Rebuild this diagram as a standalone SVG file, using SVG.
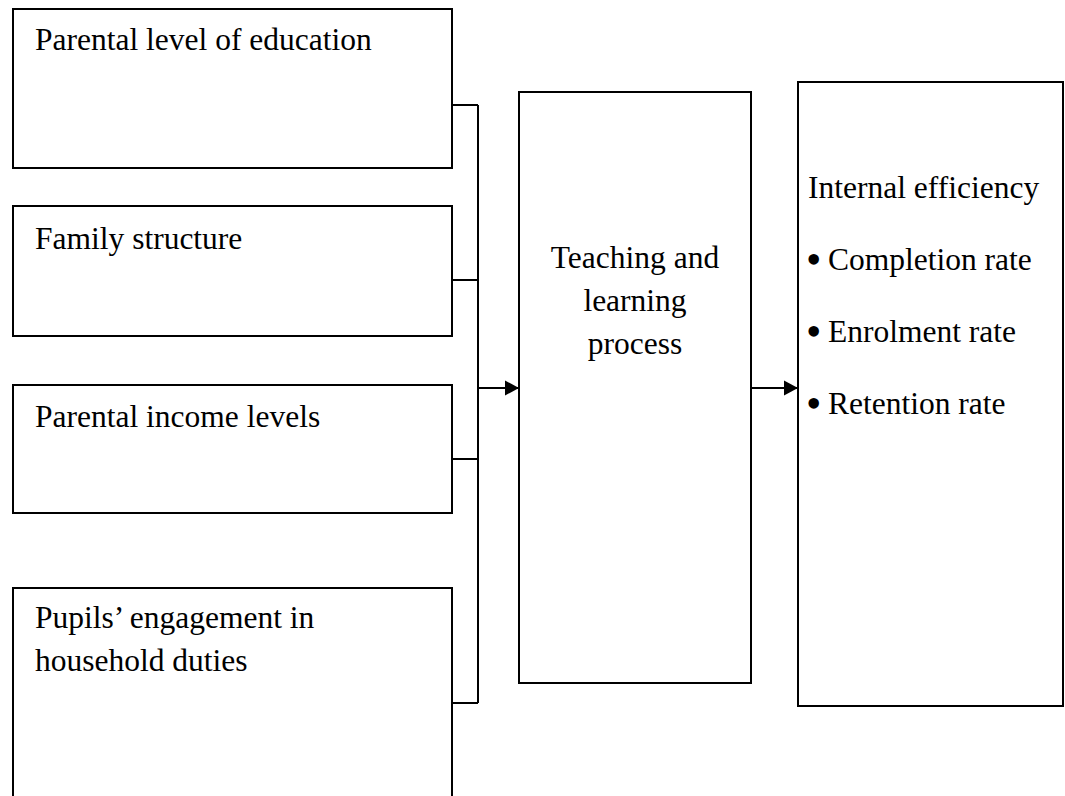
<svg xmlns="http://www.w3.org/2000/svg" width="1065" height="796" viewBox="0 0 1065 796">
<style>
.box{fill:#fff;stroke:#000;stroke-width:2}
.ln{fill:none;stroke:#000;stroke-width:2}
text{font-family:"Liberation Serif","Times New Roman",serif;font-size:31.5px;fill:#000}
.bul{font-size:44px}
</style>
<defs>
<marker id="ah" markerUnits="userSpaceOnUse" markerWidth="16" markerHeight="17" refX="15" refY="8.5" orient="auto">
<path d="M1,1 L15,8.5 L1,16 Z" fill="#000"/>
</marker>
</defs>
<rect width="1065" height="796" fill="#fff"/>
<g id="connectors">
<path class="ln" d="M452,105 H478 M452,280 H478 M452,459 H478 M452,703 H478 M478,105 V703"/>
<line class="ln" x1="478" y1="388" x2="519" y2="388" marker-end="url(#ah)"/>
<line class="ln" x1="751" y1="388" x2="798" y2="388" marker-end="url(#ah)"/>
</g>
<g id="n1">
<rect class="box" x="13" y="9" width="439" height="159"/>
<text x="35" y="50">Parental level of education</text>
</g>
<g id="n2">
<rect class="box" x="13" y="206" width="439" height="130"/>
<text x="35" y="249">Family structure</text>
</g>
<g id="n3">
<rect class="box" x="13" y="385" width="439" height="128"/>
<text x="35" y="427">Parental income levels</text>
</g>
<g id="n4">
<rect class="box" x="13" y="588" width="439" height="220"/>
<text x="35" y="628">Pupils’ engagement in</text>
<text x="35" y="671">household duties</text>
</g>
<g id="n5">
<rect class="box" x="519" y="92" width="232" height="591"/>
<text x="635" y="268" text-anchor="middle">Teaching and</text>
<text x="635" y="311" text-anchor="middle">learning</text>
<text x="635" y="354" text-anchor="middle">process</text>
</g>
<g id="n6">
<rect class="box" x="798" y="82" width="265" height="624"/>
<text x="808" y="198">Internal efficiency</text>
<text class="bul" x="806" y="274">•</text>
<text x="828" y="270">Completion rate</text>
<text class="bul" x="806" y="346">•</text>
<text x="828" y="342">Enrolment rate</text>
<text class="bul" x="806" y="418">•</text>
<text x="828" y="414">Retention rate</text>
</g>
</svg>
